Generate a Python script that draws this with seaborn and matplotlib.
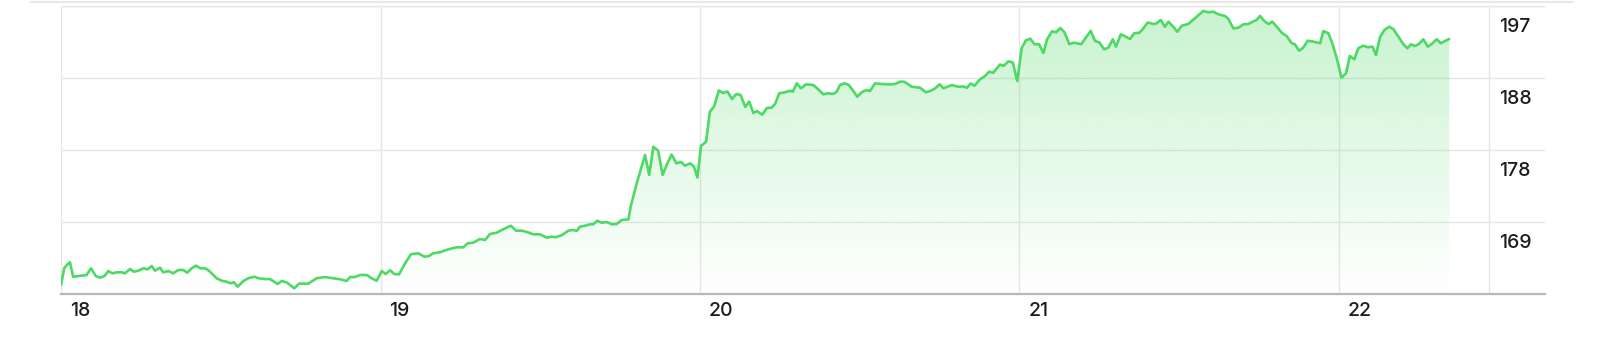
import numpy as np
import pandas as pd
import matplotlib
matplotlib.use("Agg")
import matplotlib.pyplot as plt
import seaborn as sns
from matplotlib.transforms import ScaledTranslation, blended_transform_factory
from matplotlib.lines import Line2D
from matplotlib.colors import to_rgb

# ---------------- data ----------------
day = [
    18.000, 18.010, 18.018, 18.028, 18.038, 18.080, 18.094, 18.109, 18.122, 18.136,
    18.148, 18.161, 18.174, 18.190, 18.200, 18.216, 18.228, 18.242, 18.258, 18.271,
    18.284, 18.294, 18.310, 18.320, 18.336, 18.351, 18.367, 18.383, 18.395, 18.409,
    18.422, 18.437, 18.451, 18.463, 18.487, 18.503, 18.519, 18.529, 18.541, 18.553,
    18.571, 18.586, 18.605, 18.618, 18.638, 18.654, 18.678, 18.691, 18.708, 18.730,
    18.745, 18.774, 18.800, 18.826, 18.852, 18.873, 18.894, 18.905, 18.920, 18.936,
    18.957, 18.972, 18.988, 19.004, 19.016, 19.030, 19.043, 19.058, 19.077, 19.095,
    19.118, 19.137, 19.152, 19.165, 19.186, 19.212, 19.238, 19.259, 19.273, 19.290,
    19.311, 19.327, 19.343, 19.364, 19.384, 19.408, 19.424, 19.442, 19.458, 19.478,
    19.499, 19.520, 19.536, 19.546, 19.567, 19.588, 19.603, 19.614, 19.624, 19.640,
    19.656, 19.666, 19.679, 19.692, 19.708, 19.724, 19.739, 19.755, 19.776, 19.783,
    19.802, 19.828, 19.841, 19.854, 19.869, 19.883, 19.897, 19.911, 19.926, 19.941,
    19.953, 19.969, 19.981, 19.992, 20.003, 20.019, 20.031, 20.044, 20.059, 20.072,
    20.086, 20.100, 20.114, 20.127, 20.142, 20.154, 20.167, 20.178, 20.195, 20.209,
    20.224, 20.235, 20.248, 20.266, 20.282, 20.290, 20.303, 20.316, 20.332, 20.355,
    20.370, 20.386, 20.402, 20.417, 20.428, 20.438, 20.452, 20.466, 20.480, 20.492,
    20.506, 20.520, 20.532, 20.548, 20.569, 20.595, 20.610, 20.626, 20.639, 20.663,
    20.689, 20.707, 20.723, 20.736, 20.750, 20.762, 20.788, 20.808, 20.824, 20.836,
    20.847, 20.859, 20.876, 20.892, 20.905, 20.918, 20.939, 20.950, 20.965, 20.979,
    20.993, 21.007, 21.020, 21.034, 21.047, 21.061, 21.075, 21.086, 21.102, 21.115,
    21.128, 21.141, 21.156, 21.170, 21.193, 21.209, 21.223, 21.236, 21.250, 21.265,
    21.278, 21.292, 21.302, 21.317, 21.333, 21.346, 21.359, 21.375, 21.388, 21.401,
    21.419, 21.429, 21.442, 21.455, 21.466, 21.481, 21.494, 21.508, 21.528, 21.549,
    21.563, 21.575, 21.591, 21.607, 21.622, 21.643, 21.654, 21.669, 21.685, 21.701,
    21.716, 21.730, 21.742, 21.753, 21.766, 21.779, 21.791, 21.805, 21.821, 21.836,
    21.852, 21.862, 21.875, 21.888, 21.902, 21.920, 21.941, 21.951, 21.967, 21.979,
    21.993, 22.008, 22.022, 22.034, 22.048, 22.060, 22.076, 22.090, 22.105, 22.116,
    22.128, 22.142, 22.157, 22.170, 22.186, 22.201, 22.214, 22.225, 22.238, 22.250,
    22.264, 22.278, 22.290, 22.306, 22.319, 22.332, 22.345,
]

price = [
    161.17, 163.33, 163.76, 164.11, 162.24, 162.46, 163.33, 162.33, 162.11, 162.33,
    162.98, 162.68, 162.81, 162.81, 162.68, 163.24, 162.89, 163.02, 163.33, 163.20,
    163.63, 163.02, 163.41, 162.81, 162.98, 162.68, 163.11, 163.11, 162.76, 163.33,
    163.67, 163.33, 163.33, 163.02, 162.04, 161.72, 161.59, 161.39, 161.52, 160.95,
    161.69, 162.04, 162.24, 162.04, 161.94, 161.94, 161.30, 161.69, 161.46, 160.74,
    161.34, 161.34, 162.04, 162.20, 162.04, 161.91, 161.69, 162.20, 162.20, 162.46,
    162.46, 162.04, 161.72, 162.98, 162.59, 163.07, 162.59, 162.55, 163.98, 165.15,
    165.28, 164.84, 164.93, 165.28, 165.41, 165.79, 166.05, 166.05, 166.57, 166.65,
    167.13, 167.00, 167.78, 167.95, 168.39, 168.85, 168.21, 168.21, 168.04, 167.74,
    167.74, 167.30, 167.43, 167.35, 167.61, 168.21, 168.30, 168.17, 168.72, 168.85,
    169.04, 169.04, 169.50, 169.24, 169.33, 169.04, 169.07, 169.59, 169.68, 171.32,
    174.35, 178.02, 175.43, 179.09, 178.58, 175.43, 176.85, 178.08, 176.94, 177.11,
    176.63, 176.94, 176.53, 175.10, 179.19, 179.74, 183.63, 184.31, 186.38, 186.06,
    186.25, 185.28, 185.93, 185.80, 184.24, 184.95, 183.46, 183.72, 183.24, 184.11,
    184.15, 184.63, 186.02, 186.15, 186.35, 186.22, 187.31, 186.66, 187.18, 187.09,
    186.53, 185.89, 186.02, 185.93, 186.22, 187.09, 187.31, 187.09, 186.31, 185.58,
    186.15, 186.44, 186.31, 187.31, 187.22, 187.18, 187.22, 187.52, 187.52, 186.87,
    186.74, 186.15, 186.35, 186.66, 187.18, 186.66, 187.09, 186.87, 186.90, 186.74,
    187.29, 187.00, 187.81, 188.26, 188.82, 188.69, 189.75, 189.56, 190.16, 190.01,
    187.61, 191.91, 192.89, 193.09, 192.37, 192.38, 191.24, 192.99, 194.05, 193.94,
    194.48, 193.90, 192.38, 192.58, 192.38, 193.31, 194.12, 192.82, 192.60, 191.72,
    191.93, 193.02, 192.06, 193.67, 193.35, 193.06, 193.80, 193.87, 194.44, 195.19,
    195.00, 195.09, 195.52, 194.65, 195.30, 194.65, 194.00, 194.78, 195.00, 195.74,
    196.26, 196.69, 196.52, 196.59, 196.26, 196.04, 195.65, 194.44, 194.52, 194.96,
    195.00, 195.30, 195.52, 196.04, 195.39, 195.00, 195.30, 194.65, 193.87, 193.44,
    192.50, 192.37, 191.54, 191.93, 192.84, 192.71, 192.50, 194.09, 193.80, 192.50,
    190.55, 188.04, 188.61, 190.85, 190.42, 191.85, 192.19, 191.98, 192.06, 190.98,
    193.28, 194.22, 194.65, 194.35, 193.35, 192.41, 191.85, 192.37, 192.15, 192.41,
    193.02, 192.06, 192.41, 193.02, 192.50, 192.80, 193.06,
]

x_ticks = [18, 19, 20, 21, 22]
x_labels = ["18", "19", "20", "21", "22"]
y_ticks = [169.333, 178.667, 188.0, 197.333]
y_labels = ["169", "178", "188", "197"]

# ---------------- style ----------------
LINE = "#4cd964"
GRID = "#e6e6e6"
AXIS = "#b8b8b8"
TEXT = "#1c1c1e"

sns.set_theme(style="white")
plt.rcParams["font.family"] = ["Inter", "DejaVu Sans"]

W, H, DPI = 1600, 352, 100
fig = plt.figure(figsize=(W / DPI, H / DPI), dpi=DPI)
fig.patch.set_facecolor("white")

# axes spans x 61..1545 px, y 6..294 px
ax = fig.add_axes([61 / W, 1 - 294 / H, 1484 / W, 288 / H])
ax.set_facecolor("white")

df = pd.DataFrame({"day": day, "price": price})

x_lo, x_hi = 18.0, 18.0 + 1484 / 319.5
y_lo, y_hi = 160.0, 197.333
ax.set_xlim(x_lo, x_hi)
ax.set_ylim(y_lo, y_hi)

# gradient fill under the line
poly = ax.fill_between(df["day"], df["price"], y_lo, color="none", lw=0)
n = 256
rgba = np.zeros((n, 1, 4))
rgba[..., :3] = to_rgb(LINE)
rgba[:, 0, 3] = np.linspace(0.0, 0.31, n)
im = ax.imshow(rgba, origin="lower", aspect="auto",
               extent=[x_lo, x_hi, y_lo, y_hi], zorder=1, interpolation="bilinear")
im.set_clip_path(poly.get_paths()[0], transform=ax.transData)

# line
sns.lineplot(data=df, x="day", y="price", ax=ax, color=LINE, lw=1.9,
             zorder=4, legend=False)
ax.set_xlim(x_lo, x_hi)
ax.set_ylim(y_lo, y_hi)
ax.set_xlabel("")
ax.set_ylabel("")

# grid
ax.set_axisbelow(True)
ax.grid(True, axis="both", color=GRID, lw=1.0)

# spines
for s in ["left", "right"]:
    ax.spines[s].set_visible(False)
ax.spines["top"].set_color(GRID)
ax.spines["top"].set_linewidth(1.0)
ax.spines["bottom"].set_color(AXIS)
ax.spines["bottom"].set_linewidth(1.6)
ax.spines["bottom"].set_zorder(5)

# right border of the plotting area (before the price labels)
ax.plot([1428 / 1484, 1428 / 1484], [0, 1], transform=ax.transAxes,
        color=GRID, lw=1.0, zorder=0.5)

# x ticks: gridlines continue below the axis
px = 72 / DPI  # points per pixel
ax.set_xticks(x_ticks)
ax.set_xticklabels(x_labels)
ax.tick_params(axis="x", which="both", direction="out", length=26 * px,
               width=1.0, color=GRID, pad=(8 - 26) * px,
               labelsize=14, labelcolor=TEXT)
for lab in ax.get_xticklabels():
    lab.set_horizontalalignment("left")
    lab.set_verticalalignment("top")
    lab.set_fontweight(500)
    lab.set_transform(lab.get_transform() +
                      ScaledTranslation(9 / DPI, 0, fig.dpi_scale_trans))

# y ticks: labels inside the right margin, just below each gridline
ax.yaxis.tick_right()
ax.set_yticks(y_ticks)
ax.set_yticklabels(y_labels)
ax.tick_params(axis="y", which="both", length=0, pad=0,
               labelsize=14, labelcolor=TEXT)
for lab in ax.get_yticklabels():
    lab.set_horizontalalignment("left")
    lab.set_verticalalignment("center")
    lab.set_fontweight(500)
    lab.set_transform(lab.get_transform() +
                      ScaledTranslation(-46 / DPI, -21 / DPI, fig.dpi_scale_trans))

# thin separator at the very top
fig.add_artist(Line2D([31 / W, 1573 / W], [1 - 2 / H, 1 - 2 / H],
                      color="#e8e8e8", lw=1.5))

fig.savefig("out.png", dpi=DPI, facecolor="white")
